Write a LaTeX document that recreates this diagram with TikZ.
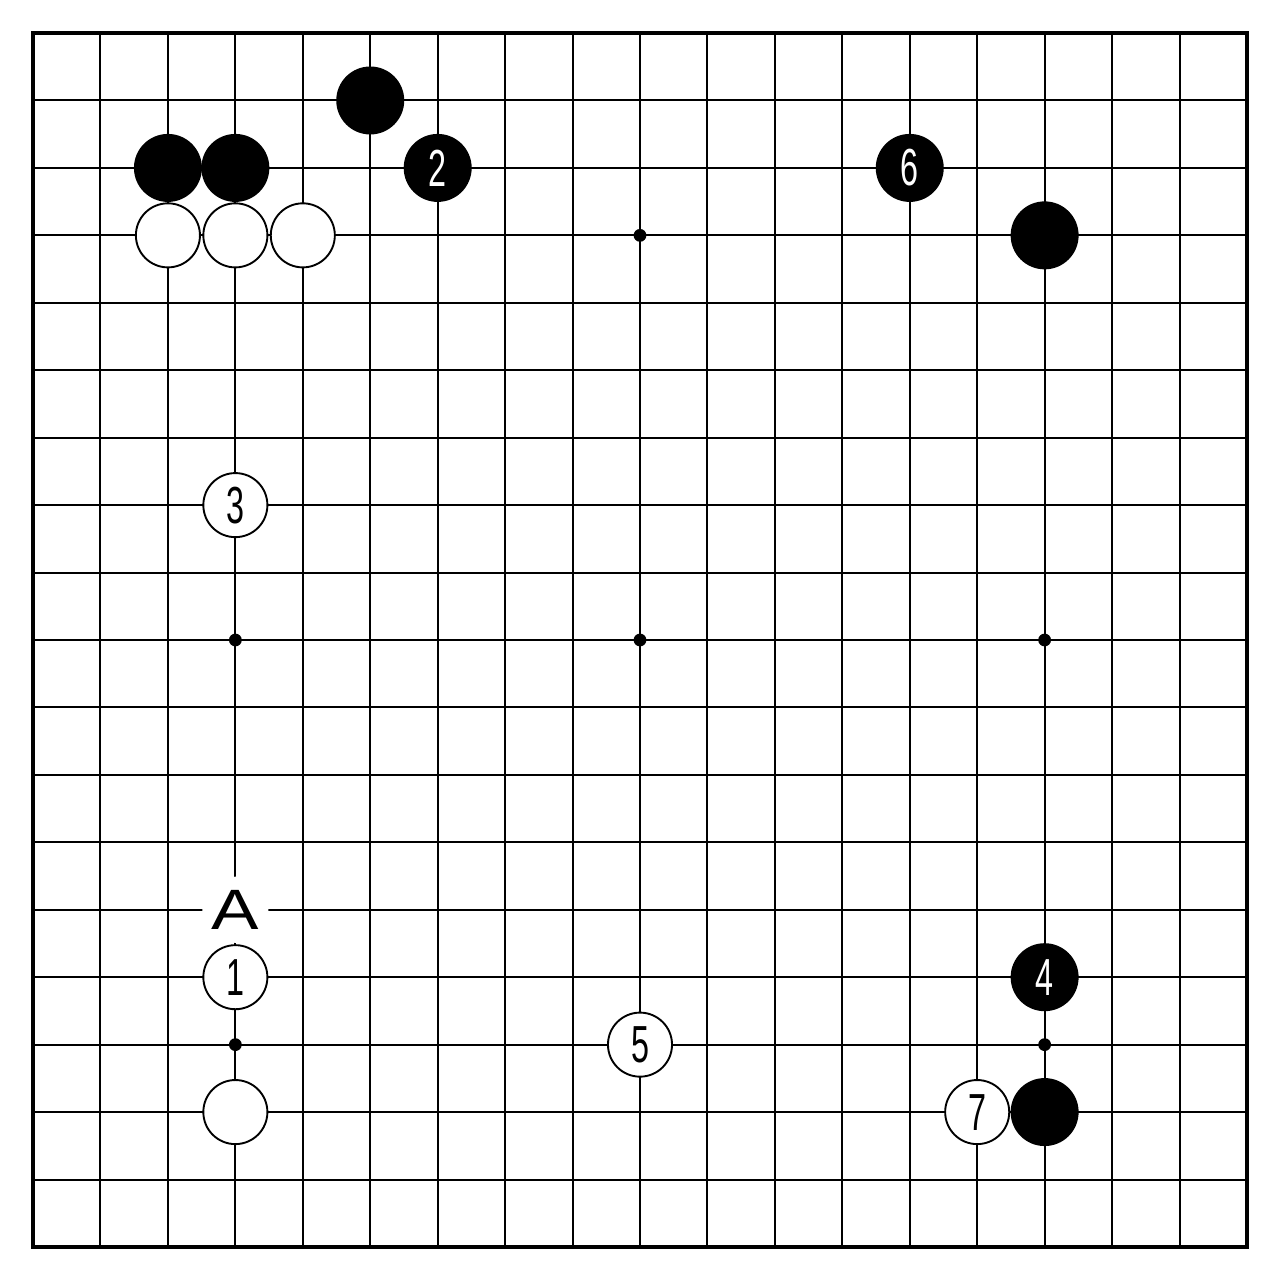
\documentclass[tikz,border=0pt]{standalone}
\usepackage{fontspec}
\newfontfamily\stonefont[FakeStretch=0.62]{Liberation Sans}
\newfontfamily\markfont[FakeStretch=1.25]{Liberation Sans}
\tikzset{
  blackstone/.style={circle,fill=black,draw=black,line width=0.8pt,minimum size=0.98cm,inner sep=0pt,text=white,font=\stonefont\fontsize{22}{22}\selectfont},
  whitestone/.style={circle,fill=white,draw=black,line width=0.8pt,minimum size=0.95cm,inner sep=0pt,text=black,font=\stonefont\fontsize{22}{22}\selectfont},
  marklabel/.style={circle,fill=white,minimum size=0.98cm,inner sep=0pt,font=\markfont\fontsize{24}{24}\selectfont},
}
\begin{document}
\begin{tikzpicture}
    \useasboundingbox (-0.49,-0.49) rectangle (18.49,18.49);
    % grid
    \foreach \i in {1,...,17} {
      \draw[line width=0.85pt] (\i,0) -- (\i,18);
      \draw[line width=0.85pt] (0,\i) -- (18,\i);
    }
    \draw[line width=2pt] (0,0) rectangle (18,18);
    % star points
    \foreach \x in {3,9,15} \foreach \y in {3,9,15} \fill (\x,\y) circle (0.095);
    % black stones
    \node[blackstone] (b1) at (5,17) {};
    \node[blackstone] (b2) at (2,16) {}; \node[blackstone] (b3) at (3,16) {};
    \node[blackstone] (b4) at (15,15) {};
    \node[blackstone] (b5) at (15,2) {};
    \node[blackstone] (m2) at (6,16) {2};
    \node[blackstone] (m6) at (13,16) {6};
    \node[blackstone] (m4) at (15,4) {4};
    % white stones
    \node[whitestone] (w1) at (2,15) {}; \node[whitestone] (w2) at (3,15) {};
    \node[whitestone] (w3) at (4,15) {};
    \node[whitestone] (w4) at (3,2) {};
    \node[whitestone] (m3) at (3,11) {3};
    \node[whitestone] (m1) at (3,4) {1};
    \node[whitestone] (m5) at (9,3) {5};
    \node[whitestone] (m7) at (14,2) {7};
    % label
    \node[marklabel] (pa) at (3,5) {A};
\end{tikzpicture}
\end{document}
